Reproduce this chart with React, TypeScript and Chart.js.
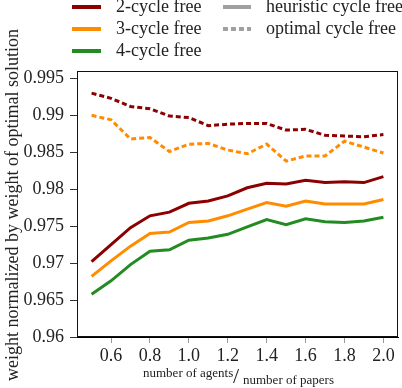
import React, { useEffect, useRef } from "react";
import { Chart, registerables } from "chart.js";

Chart.register(...registerables);

const xValues = [0.5, 0.6, 0.7, 0.8, 0.9, 1.0, 1.1, 1.2, 1.3, 1.4, 1.5, 1.6, 1.7, 1.8, 1.9, 2.0];

const heuristic2 = [0.9702, 0.9725, 0.9748, 0.9764, 0.9769, 0.9781, 0.9784, 0.9791, 0.9802, 0.9808, 0.9807, 0.9812, 0.9809, 0.981, 0.9809, 0.9817];
const heuristic3 = [0.9682, 0.9703, 0.9723, 0.974, 0.9742, 0.9755, 0.9757, 0.9764, 0.9773, 0.9782, 0.9777, 0.9784, 0.978, 0.978, 0.978, 0.9786];
const heuristic4 = [0.9658, 0.9676, 0.9698, 0.9716, 0.9718, 0.9731, 0.9734, 0.9739, 0.9749, 0.9759, 0.9752, 0.976, 0.9756, 0.9755, 0.9757, 0.9762];
const optimal2 = [0.993, 0.9923, 0.9912, 0.9909, 0.9899, 0.9897, 0.9886, 0.9888, 0.9889, 0.9889, 0.988, 0.9881, 0.9873, 0.9872, 0.9871, 0.9874];
const optimal3 = [0.99, 0.9894, 0.9868, 0.987, 0.9851, 0.9861, 0.9862, 0.9853, 0.9848, 0.9861, 0.9838, 0.9845, 0.9845, 0.9865, 0.9857, 0.9849];

const xTicks = [0.6, 0.8, 1.0, 1.2, 1.4, 1.6, 1.8, 2.0];
const yTicks = [0.96, 0.965, 0.97, 0.975, 0.98, 0.985, 0.99, 0.995];
const yTickLabels = ["0.96", "0.965", "0.97", "0.975", "0.98", "0.985", "0.99", "0.995"];

const seriesNames = ["2-cycle free", "3-cycle free", "4-cycle free"];
const styleNames = ["heuristic cycle free", "optimal cycle free"];
const yTitle = "weight normalized by weight of optimal solution";
const xTitleTop = "number of agents";
const xTitleBottom = "number of papers";

const RED = "#8b0000";
const ORANGE = "#ff8c00";
const GREEN = "#228b22";
const GREY = "#a0a0a0";
const FONT = "'Liberation Serif', 'DejaVu Serif', serif";

const pts = (arr: number[]) => arr.map((y, i) => ({ x: xValues[i], y }));

const overlayPlugin = {
  id: "overlay",
  afterDraw(chart: any) {
    const ctx = chart.ctx as CanvasRenderingContext2D;
    const a = chart.chartArea;
    ctx.save();
    // frame
    ctx.strokeStyle = "#111";
    ctx.lineWidth = 1;
    ctx.strokeRect(Math.round(a.left) + 0.5, Math.round(a.top) + 0.5, Math.round(a.right - a.left) - 1, Math.round(a.bottom - a.top) - 1);

    // legend
    const colors = [RED, ORANGE, GREEN];
    const rows = [7, 29, 51];
    ctx.font = `18px ${FONT}`;
    ctx.textBaseline = "alphabetic";
    ctx.textAlign = "left";
    ctx.lineWidth = 4;
    ctx.lineCap = "butt";
    seriesNames.forEach((n, i) => {
      ctx.strokeStyle = colors[i];
      ctx.setLineDash([]);
      ctx.beginPath();
      ctx.moveTo(72, rows[i]);
      ctx.lineTo(101, rows[i]);
      ctx.stroke();
      ctx.fillStyle = "#222";
      ctx.fillText(n, 116, rows[i] + 5);
    });
    styleNames.forEach((n, i) => {
      ctx.strokeStyle = GREY;
      ctx.setLineDash(i === 0 ? [] : [5, 3]);
      ctx.beginPath();
      ctx.moveTo(223, rows[i]);
      ctx.lineTo(251, rows[i]);
      ctx.stroke();
      ctx.fillStyle = "#222";
      ctx.fillText(n, 266, rows[i] + 5);
    });
    ctx.setLineDash([]);

    // y title
    ctx.save();
    ctx.translate(13, 205);
    ctx.rotate(-Math.PI / 2);
    ctx.textAlign = "center";
    ctx.textBaseline = "middle";
    ctx.font = `18px ${FONT}`;
    ctx.fillStyle = "#222";
    ctx.fillText(yTitle, 0, 0);
    ctx.restore();

    // x title
    ctx.fillStyle = "#222";
    ctx.textAlign = "left";
    ctx.textBaseline = "alphabetic";
    ctx.font = `13px ${FONT}`;
    ctx.fillText(xTitleTop, 143, 377);
    ctx.fillText(xTitleBottom, 243, 384);
    ctx.font = `22px ${FONT}`;
    ctx.fillText("/", 233, 383);
    ctx.restore();
  },
};

export default function App() {
  const ref = useRef<HTMLCanvasElement>(null);
  useEffect(() => {
    document.body.style.margin = "0";
    const canvas = ref.current!;
    const ds = (label: string, data: number[], color: string, dashed: boolean) => ({
      label,
      data: pts(data),
      borderColor: color,
      backgroundColor: color,
      borderWidth: 3,
      borderDash: dashed ? [5, 3] : [],
      pointRadius: 0,
      tension: 0,
      fill: false,
    });
    const chart = new Chart(canvas, {
      type: "line",
      data: {
        datasets: [
          ds("2-cycle free heuristic", heuristic2, RED, false),
          ds("3-cycle free heuristic", heuristic3, ORANGE, false),
          ds("4-cycle free heuristic", heuristic4, GREEN, false),
          ds("2-cycle free optimal", optimal2, RED, true),
          ds("3-cycle free optimal", optimal3, ORANGE, true),
        ],
      },
      options: {
        animation: false,
        responsive: false,
        devicePixelRatio: 1,
        layout: { padding: { left: 0, top: 71, right: 4, bottom: 0 } },
        plugins: { legend: { display: false }, tooltip: { enabled: false } },
        scales: {
          x: {
            type: "linear",
            min: 0.425,
            max: 2.075,
            afterBuildTicks: (axis: any) => {
              axis.ticks = xTicks.map((v) => ({ value: v }));
            },
            afterFit: (scale: any) => {
              scale.height = 51;
            },
            grid: { drawOnChartArea: false, drawTicks: true, tickLength: 6, color: "#999" },
            border: { display: true, color: "#000", width: 1 },
            ticks: {
              font: { family: FONT, size: 18 },
              color: "#222",
              padding: 2,
              maxRotation: 0,
              callback: (v: any) => Number(v).toFixed(1),
            },
          },
          y: {
            type: "linear",
            min: 0.96,
            max: 0.996,
            afterBuildTicks: (axis: any) => {
              axis.ticks = yTicks.map((v) => ({ value: v }));
            },
            afterFit: (scale: any) => {
              scale.width = 77;
            },
            grid: { drawOnChartArea: false, drawTicks: true, tickLength: 7, color: "#333" },
            border: { display: true, color: "#000", width: 1 },
            ticks: {
              font: { family: FONT, size: 18 },
              color: "#222",
              padding: 6,
              callback: (v: any) => {
                const i = yTicks.findIndex((t) => Math.abs(t - Number(v)) < 1e-9);
                return i >= 0 ? yTickLabels[i] : "";
              },
            },
          },
        },
      },
      plugins: [overlayPlugin],
    } as any);
    return () => chart.destroy();
  }, []);
  return (
    <div style={{ position: "absolute", left: 0, top: 0, width: 402, height: 388 }}>
      <canvas ref={ref} width={402} height={388} style={{ width: 402, height: 388, display: "block" }} />
    </div>
  );
}
